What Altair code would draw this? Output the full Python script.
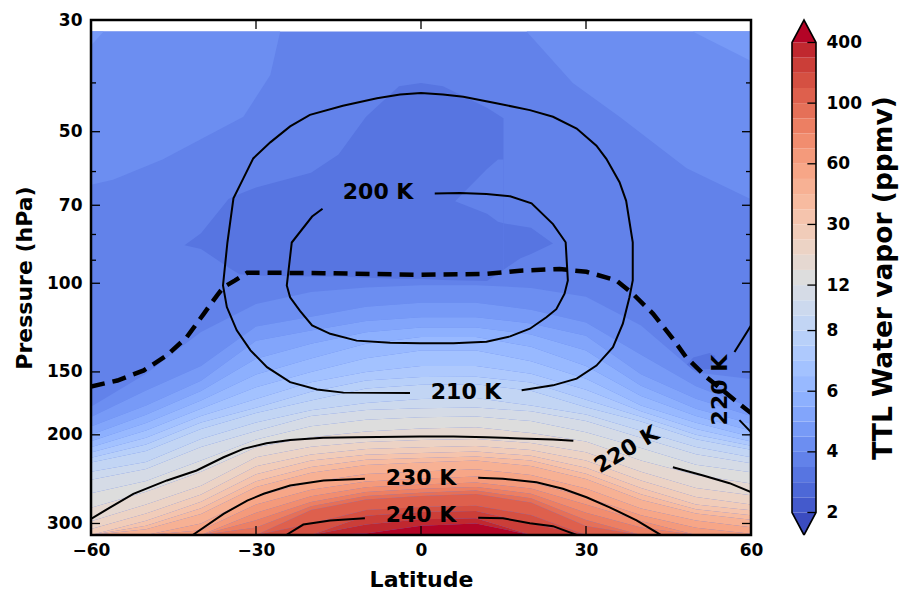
import math
import altair as alt
import pandas as pd

FONT = "DejaVu Sans"

# Filled-contour levels (ppmv): band k spans LEVELS[k] .. LEVELS[k+1]
LEVELS = [2, 2.5, 3, 3.5, 4, 4.5, 5, 5.5, 6, 6.5, 7, 7.5, 8, 9, 10, 12,
          15, 20, 25, 30, 35, 40, 50, 60, 70, 80, 90, 100, 150, 200, 300, 400]
CBAR_LABELS = [2, 4, 6, 8, 12, 30, 60, 100, 400]

# coolwarm table: under-range colour, 31 band colours, over-range colour
COOLWARM = ["#3b4cc0", "#445acc", "#4d68d7", "#5775e1", "#6282ea", "#6c8ef1",
            "#779af7", "#82a5fb", "#8db0fe", "#98b9ff", "#a3c2ff", "#aec9fd",
            "#b8d0f9", "#c2d5f4", "#ccd9ee", "#d5dbe6", "#dddddd", "#e5d8d1",
            "#ecd3c5", "#f1ccb9", "#f5c4ad", "#f7bba0", "#f7b194", "#f7a687",
            "#f49a7b", "#f18d6f", "#ec7f63", "#e57058", "#de604d", "#d55042",
            "#cb3e38", "#c0282f", "#b40426"]

def band_color(k):
    return COOLWARM[k + 1]

# Zonal-mean water vapour (ppmv) below 100 hPa
LATS = [-60, -50, -40, -30, -20, -10, 0, 10, 20, 30, 40, 50, 60]
PRESS = [100, 115, 130, 150, 175, 200, 225, 250, 275, 300, 316.2]
WV_100 = [3.70, 3.70, 3.70, 3.80, 3.85, 3.90, 3.95, 3.95, 3.90, 3.85, 3.75, 3.70, 3.70]
WV_115 = [3.72, 3.75, 3.80, 4.10, 4.40, 4.70, 4.85, 4.85, 4.60, 4.20, 3.85, 3.75, 3.70]
WV_130 = [3.75, 3.85, 4.10, 5.00, 5.40, 5.90, 6.20, 6.20, 5.80, 5.20, 4.20, 3.85, 3.80]
WV_150 = [3.80, 3.95, 4.60, 5.90, 6.50, 7.00, 7.20, 7.20, 6.90, 6.20, 4.90, 3.98, 3.90]
WV_175 = [3.95, 5.00, 6.30, 7.30, 8.30, 9.20, 9.50, 9.60, 9.00, 7.80, 6.50, 5.30, 4.40]
WV_200 = [5.5, 6.8, 8.5, 10.5, 14, 16, 17, 17.5, 15.5, 12.5, 9.5, 7.5, 6.3]
WV_225 = [7.8, 8.8, 12, 22, 30, 36, 38, 40, 35, 25, 15, 11, 9.5]
WV_250 = [10.5, 12.5, 19, 37, 52, 63, 68, 72, 62, 45, 27, 18, 15]
WV_275 = [14, 20, 32, 60, 85, 115, 130, 140, 105, 70, 45, 30, 25]
WV_300 = [21, 32, 50, 85, 150, 290, 380, 400, 200, 95, 75, 55, 45]
WV_316 = [30, 50, 68, 100, 200, 420, 500, 520, 250, 120, 90, 70, 62]
WV_ROWS = [WV_100, WV_115, WV_130, WV_150, WV_175, WV_200,
           WV_225, WV_250, WV_275, WV_300, WV_316]

# Stratospheric regions (above ~100 hPa): background band plus patches
BASE_BAND = 3
P_TOP = 31.62
LAT_RANGE = [-60, 60]
P_AXIS = [30, 316.23]

TL_LAT = [-60, -56, -47, -32.3, -27.4, -25.6]
TL_BOT = [63.7, 62.3, 56.8, 46.7, 38.6, 31.62]
TLC_LAT = [-60, -57.7]
TLC_BOT = [33.7, 31.62]
TR_LAT = [19.2, 27.6, 36.1, 48.3, 60]
TR_BOT = [31.62, 40.0, 46.7, 59.1, 68.1]
TRC_LAT = [49.4, 60]
TRC_BOT = [31.62, 36.2]
CORE_LAT = [-43, -40, -35, -33, -30, -20, -15, -10, -4, 0, 4, 12, 15]
CORE_TOP = [84, 79.6, 68, 66.5, 64.5, 60.3, 55.5, 46.7, 40.6, 40.0, 40.6, 44.8, 47]
CORE_BOT = [84, 85.5, 93, 96, 96.5, 97, 97, 97.5, 98, 98, 98.5, 99, 94]
LOBE_LAT = [15, 18, 20, 24]
LOBE_TOP = [76, 77, 77.6, 83.4]
LOBE_BOT = [94, 89.3, 87.5, 83.4]
NOTCH_LAT = [6.2, 12, 14, 15]
NOTCH_TOP = [68.7, 59.3, 56.8, 56.8]
NOTCH_BOT = [68.7, 72.8, 75.5, 76]
SL_LAT = [-48.6, -45.2, -43.7, -43.2]
SL_TOP = [146, 139.8, 139.8, 147.8]
SL_BOT = [148.9, 148.9, 148.5, 147.8]
SR_LAT = [47.7, 49.5, 52.5, 53.5]
SR_TOP = [147.5, 140.5, 137.5, 139.5]
SR_BOT = [147.5, 148.5, 148, 139.5]

PATCHES = [
    ("tl", 4, TL_LAT, [P_TOP] * len(TL_LAT), TL_BOT),
    ("tlc", 5, TLC_LAT, [P_TOP] * len(TLC_LAT), TLC_BOT),
    ("tr", 4, TR_LAT, [P_TOP] * len(TR_LAT), TR_BOT),
    ("trc", 5, TRC_LAT, [P_TOP] * len(TRC_LAT), TRC_BOT),
    ("core", 2, CORE_LAT, CORE_TOP, CORE_BOT),
    ("lobe", 2, LOBE_LAT, LOBE_TOP, LOBE_BOT),
    ("notch", 3, NOTCH_LAT, NOTCH_TOP, NOTCH_BOT),
    ("sl", 2, SL_LAT, SL_TOP, SL_BOT),
    ("sr", 2, SR_LAT, SR_TOP, SR_BOT),
]

# Temperature contours (K) and the tropopause
T200_LAT = [2.5, 7.1, 11.9, 16.2, 20.1, 24.0, 26.3, 26.7, 26.1, 24.6, 22.8, 19.8,
            16.2, 11.9, 5.9, -0.2, -5.6, -11.7, -16.5, -19.8, -22.0, -23.8, -24.4,
            -23.5, -19.8, -17.9]
T200_P = [66.3, 66.2, 66.5, 67.2, 69.4, 76.3, 82.9, 98.7, 104.9, 112.6, 116.8, 123.1,
          127.5, 130.6, 131.5, 131.5, 131.3, 130.0, 126.0, 121.3, 113.5, 106.6, 101.0,
          83.0, 73.7, 71.1]
T210_LAT = [-2.0, -14.1, -18.9, -23.8, -28.0, -31.0, -33.5, -35.3, -36.0, -35.2, -34.1,
            -32.3, -30.5, -27.4, -23.8, -20.2, -14.2, -8.0, -3.8, 0.0, 4.0, 7.7, 13.7,
            19.8, 24.0, 28.3, 31.9, 33.7, 36.1, 37.3, 38.5, 38.5, 37.9, 36.7, 34.9,
            31.9, 28.3, 24.0, 18.3]
T210_P = [165.2, 164.9, 162.5, 157.2, 146.8, 135.9, 124.0, 111.5, 101.0, 83.0, 67.8,
          61.9, 56.5, 52.5, 48.8, 46.3, 44.4, 42.9, 42.2, 41.9, 42.2, 42.6, 43.9, 45.3,
          46.7, 49.3, 53.3, 56.6, 63.0, 68.6, 82.9, 98.7, 106.6, 120.3, 134.0, 145.7,
          154.7, 159.5, 163.2]
T220A_LAT = [-60.0, -56.5, -52.3, -46.2, -40.8, -35.9, -32.3, -28.1, -23.8, -17.8,
             -11.7, -0.2, 5.9, 11.9, 18.0, 24.0, 27.7]
T220A_P = [293.7, 278.6, 261.9, 246.4, 235.4, 221.6, 213.3, 207.9, 204.7, 202.8, 202.3,
           201.6, 201.6, 202.3, 203.3, 204.3, 205.6]
T220B_LAT = [45.8, 51.3, 56.1, 60.0]
T220B_P = [231.9, 240.9, 249.5, 260.0]
T220C_LAT = [60.0, 57.0]
T220C_P = [121.3, 137.0]
T220D_LAT = [57.9, 60.0]
T220D_P = [187.0, 197.5]
T230A_LAT = [-41.5, -35.9, -31.6, -28.6, -23.8, -17.7, -10.2]
T230A_P = [316.2, 287.1, 270.2, 261.9, 252.1, 246.4, 244.5]
T230B_LAT = [10.4, 14.9, 21.0, 25.8, 30.1, 34.3, 39.2, 43.6]
T230B_P = [243.4, 244.5, 248.4, 255.9, 266.1, 278.6, 295.9, 316.2]
T240A_LAT = [-24.5, -21.4, -16.5, -10.2]
T240A_P = [316.2, 301.5, 295.9, 292.8]
T240B_LAT = [10.4, 14.9, 19.8, 24.0, 28.3]
T240B_P = [292.2, 293.0, 299.6, 303.7, 316.2]
TROP_LAT = [-60.0, -55.2, -50.4, -46.2, -42.6, -39.5, -37.1, -35.9, -33.8, -31.6, -28.6,
            -17.7, -0.2, 11.9, 18.0, 25.2, 30.1, 35.5, 38.5, 42.2, 45.8, 48.2, 51.9,
            57.9, 60.0]
TROP_P = [160.3, 156.0, 149.0, 139.1, 128.0, 115.0, 105.8, 101.8, 98.7, 95.3, 95.3,
          95.5, 96.2, 95.8, 94.4, 93.7, 94.9, 98.7, 104.9, 115.0, 128.9, 140.2, 153.6,
          173.6, 181.0]

LABEL_TEXT = ["200 K", "210 K", "220 K", "220 K", "230 K", "240 K"]
LABEL_LAT = [-7.8, 8.2, 37.4, 54.3, 0.0, 0.0]
LABEL_P = [65.9, 164.5, 214.0, 163.0, 243.5, 289.0]
LABEL_ANGLE = [0, 0, 329, 270, 0, 0]

X_LABELS = [-60, -30, 0, 30, 60]
X_INNER_TICKS = [-30, 0, 30]
Y_LABELS = [30, 50, 70, 100, 150, 200, 300]
Y_MAJOR_TICKS = [50, 70, 100, 150, 200, 300]
Y_MINOR_TICKS = [40, 60, 80, 90]

W, H = 660, 515
TICK_MAJOR, TICK_MINOR = 9, 5


def crossing(column, level):
    """Pressure at which a column first reaches `level` (log-log within a layer)."""
    if column[0] >= level:
        return PRESS[0]
    for i in range(len(PRESS) - 1):
        v0, v1 = column[i], column[i + 1]
        if v0 < level <= v1:
            f = (math.log(level) - math.log(v0)) / (math.log(v1) - math.log(v0))
            lp = math.log(PRESS[i]) + f * (math.log(PRESS[i + 1]) - math.log(PRESS[i]))
            return math.exp(lp)
    return PRESS[-1]


columns = [[row[j] for row in WV_ROWS] for j in range(len(LATS))]
band_rows = []
for k in range(BASE_BAND + 1, len(LEVELS)):
    for j, lat in enumerate(LATS):
        top = crossing(columns[j], LEVELS[k])
        bot = crossing(columns[j], LEVELS[k + 1]) if k + 1 < len(LEVELS) else PRESS[-1]
        band_rows.append({"lat": lat, "p": top, "p2": bot, "id": f"b{k:02d}",
                          "hex": band_color(k)})
bands_df = pd.DataFrame(band_rows)

patch_rows = []
for name, k, lats, tops, bots in PATCHES:
    for lat, t, b in zip(lats, tops, bots):
        patch_rows.append({"lat": lat, "p": t, "p2": b, "id": name, "hex": band_color(k)})
patch_df = pd.DataFrame(patch_rows)

line_rows = []
for name, lats, ps in [("t200", T200_LAT, T200_P), ("t210", T210_LAT, T210_P),
                       ("t220a", T220A_LAT, T220A_P), ("t220b", T220B_LAT, T220B_P),
                       ("t220c", T220C_LAT, T220C_P), ("t220d", T220D_LAT, T220D_P),
                       ("t230a", T230A_LAT, T230A_P), ("t230b", T230B_LAT, T230B_P),
                       ("t240a", T240A_LAT, T240A_P), ("t240b", T240B_LAT, T240B_P)]:
    for o, (lat, p) in enumerate(zip(lats, ps)):
        line_rows.append({"lat": lat, "p": p, "id": name, "o": o})
lines_df = pd.DataFrame(line_rows)
trop_df = pd.DataFrame({"lat": TROP_LAT, "p": TROP_P, "o": list(range(len(TROP_LAT)))})
labels_df = pd.DataFrame({"lat": LABEL_LAT, "p": LABEL_P, "text": LABEL_TEXT,
                          "angle": LABEL_ANGLE})

xs = alt.Scale(domain=LAT_RANGE, nice=False, zero=False)
ys = alt.Scale(type="log", domain=P_AXIS, nice=False, reverse=True)

x_axis = alt.Axis(values=X_LABELS, format="d", labelExpr="replace(datum.label, '-', '\u2212')",
                  ticks=False, tickSize=0, domain=False, grid=False, labelPadding=7,
                  labelFlush=False, labelOverlap=False, title="Latitude", titlePadding=11)
y_axis = alt.Axis(values=Y_LABELS, format="d", ticks=False, tickSize=0, domain=False,
                  grid=False, labelPadding=9, labelFlush=False, labelOverlap=False,
                  title="Pressure (hPa)", titlePadding=10)


def X(field="lat"):
    return alt.X(f"{field}:Q", scale=xs, axis=x_axis, title="Latitude")


def Y(field="p"):
    return alt.Y(f"{field}:Q", scale=ys, axis=y_axis, title="Pressure (hPa)")


base = alt.Chart(pd.DataFrame({"lat": [LAT_RANGE[0]], "lat2": [LAT_RANGE[1]],
                               "p": [P_TOP], "p2": [PRESS[-1]]})).mark_rect(
    color=band_color(BASE_BAND), strokeWidth=0
).encode(x=X(), x2="lat2", y=Y(), y2="p2")

patches = alt.Chart(patch_df).mark_area(interpolate="linear").encode(
    x=X(), y=Y(), y2="p2", color=alt.Color("hex:N", scale=None), detail="id:N"
)
bands = alt.Chart(bands_df).mark_area(interpolate="linear").encode(
    x=X(), y=Y(), y2="p2", color=alt.Color("hex:N", scale=None), detail="id:N"
)
contours = alt.Chart(lines_df).mark_line(color="black", strokeWidth=2, clip=True).encode(
    x=X(), y=Y(), detail="id:N", order="o:Q"
)
tropopause = alt.Chart(trop_df).mark_line(
    color="black", strokeWidth=4.5, strokeDash=[14, 8], clip=True
).encode(x=X(), y=Y(), order="o:Q")
labels = alt.Chart(labels_df).mark_text(
    font=FONT, fontWeight="bold", fontSize=22, color="black", align="center",
    baseline="middle"
).encode(x=X(), y=Y(), text="text:N", angle=alt.Angle("angle:Q", scale=None))

xt = pd.DataFrame({"lat": X_INNER_TICKS})
yt_major = pd.DataFrame({"p": Y_MAJOR_TICKS})
yt_minor = pd.DataFrame({"p": Y_MINOR_TICKS})
tick_style = dict(color="black", strokeWidth=1.3)
ticks = [
    alt.Chart(xt).mark_rule(**tick_style).encode(x=X(), y=alt.value(0), y2=alt.value(TICK_MAJOR)),
    alt.Chart(xt).mark_rule(**tick_style).encode(x=X(), y=alt.value(H), y2=alt.value(H - TICK_MAJOR)),
    alt.Chart(yt_major).mark_rule(**tick_style).encode(y=Y(), x=alt.value(0), x2=alt.value(TICK_MAJOR)),
    alt.Chart(yt_major).mark_rule(**tick_style).encode(y=Y(), x=alt.value(W), x2=alt.value(W - TICK_MAJOR)),
    alt.Chart(yt_minor).mark_rule(**tick_style).encode(y=Y(), x=alt.value(0), x2=alt.value(TICK_MINOR)),
    alt.Chart(yt_minor).mark_rule(**tick_style).encode(y=Y(), x=alt.value(W), x2=alt.value(W - TICK_MINOR)),
]

frame = alt.Chart(pd.DataFrame({"lat": [LAT_RANGE[0]], "lat2": [LAT_RANGE[1]],
                                "p": [P_AXIS[0]], "p2": [P_AXIS[1]]})).mark_rect(
    fillOpacity=0, stroke="black", strokeWidth=2.5
).encode(x=X(), x2="lat2", y=Y(), y2="p2")

main = alt.layer(base, patches, bands, contours, tropopause, labels, *ticks, frame).properties(
    width=W, height=H
)

# Colour bar with triangular extensions
N_BANDS = len(LEVELS) - 1
EXT = 1.484
cxs = alt.Scale(domain=[0, 1], nice=False, zero=False)
cys = alt.Scale(domain=[-EXT, N_BANDS + EXT], nice=False, zero=False)

label_array = "[" + ",".join(f"'{v:g}'" for v in LEVELS) + "]"
cb_axis = alt.Axis(orient="right", values=[LEVELS.index(v) for v in CBAR_LABELS],
                   labelExpr=label_array + "[datum.value]", ticks=False, tickSize=0,
                   domain=False, grid=False, labelPadding=10, labelFlush=False,
                   labelOverlap=False, title="TTL Water vapor (ppmv)", titleFontSize=26.5,
                   titleAngle=270, titleBaseline="top", titlePadding=9)


def CX(field):
    return alt.X(f"{field}:Q", scale=cxs, axis=None)


def CY(field="i"):
    return alt.Y(f"{field}:Q", scale=cys, axis=cb_axis, title="TTL Water vapor (ppmv)")


cb_df = pd.DataFrame({"i": list(range(N_BANDS)), "i2": list(range(1, N_BANDS + 1)),
                      "x": [0] * N_BANDS, "x1": [1] * N_BANDS,
                      "hex": [band_color(k) for k in range(N_BANDS)]})
cb_rects = alt.Chart(cb_df).mark_rect(strokeWidth=0).encode(
    x=CX("x"), x2="x1", y=CY(), y2="i2", color=alt.Color("hex:N", scale=None),
)
tri_df = pd.DataFrame({
    "x": [0, 0.5, 1, 0, 0.5, 1],
    "i": [N_BANDS, N_BANDS + EXT, N_BANDS, 0, -EXT, 0],
    "i2": [N_BANDS, N_BANDS, N_BANDS, 0, 0, 0],
    "id": ["over"] * 3 + ["under"] * 3,
    "hex": [COOLWARM[-1]] * 3 + [COOLWARM[0]] * 3,
})
cb_tris = alt.Chart(tri_df).mark_area(interpolate="linear").encode(
    x=CX("x"), y=CY(), y2="i2", color=alt.Color("hex:N", scale=None), detail="id:N",
)
outline_df = pd.DataFrame({
    "x": [0.5, 0, 0, 0.5, 1, 1, 0.5],
    "i": [-EXT, 0, N_BANDS, N_BANDS + EXT, N_BANDS, 0, -EXT],
    "o": list(range(7)),
})
cb_outline = alt.Chart(outline_df).mark_line(color="black", strokeWidth=1.6).encode(
    x=CX("x"), y=CY(), order="o:Q",
)
cb_tick_df = pd.DataFrame({"i": [LEVELS.index(v) for v in CBAR_LABELS],
                           "x": [0.64] * len(CBAR_LABELS), "x1": [1] * len(CBAR_LABELS)})
cb_ticks = alt.Chart(cb_tick_df).mark_rule(color="black", strokeWidth=1.3).encode(
    x=CX("x"), x2="x1", y=CY(),
)
colorbar = alt.layer(cb_rects, cb_tris, cb_ticks, cb_outline).properties(width=24, height=H)

chart = alt.hconcat(main, colorbar, spacing=24).properties(
    padding={"left": 13, "top": 10, "right": 2, "bottom": 2}
).configure_view(stroke="transparent").configure_axis(
    labelFont=FONT, labelFontWeight="bold", labelFontSize=17, labelColor="black",
    titleFont=FONT, titleFontWeight="bold", titleFontSize=22, titleColor="black",
)

chart.save("out.html", embed_options={"renderer": "svg", "actions": False})
